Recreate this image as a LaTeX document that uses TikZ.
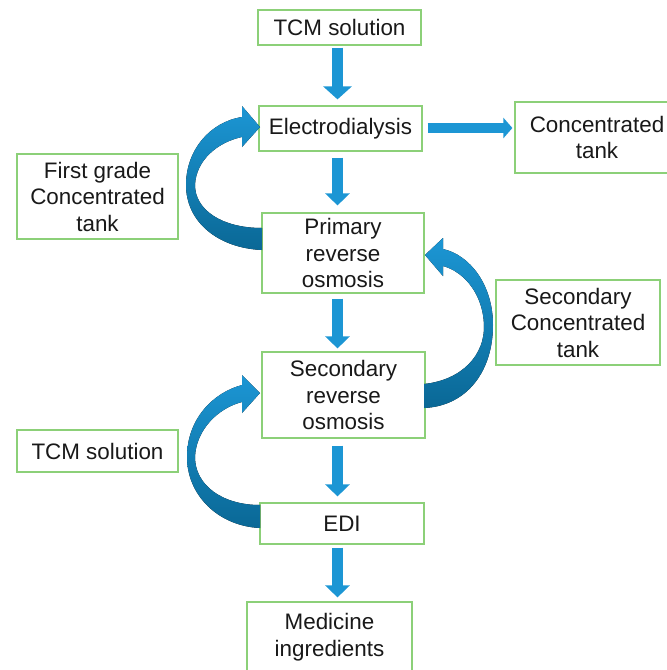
\documentclass[tikz,border=0pt]{standalone}
\usepackage{fontspec}
\setmainfont{Liberation Sans}
\usetikzlibrary{arrows.meta}
\definecolor{boxgreen}{RGB}{140,208,120}
\definecolor{arrblue}{RGB}{28,150,212}
\definecolor{arrdark}{RGB}{10,104,150}
\definecolor{txt}{RGB}{25,25,25}
\tikzset{
  box/.style={draw=boxgreen, line width=1.2pt, fill=white, inner sep=0pt,
    align=center, text=txt, font=\fontsize{22.4}{26.5}\selectfont},
  darr/.style={draw=arrblue, line width=11pt,
    -{Triangle[width=24pt,length=12pt]}, shorten <=3pt, shorten >=5pt},
  carr/.style={top color=arrblue, bottom color=arrdark, draw=none}
}
\begin{document}
\begin{tikzpicture}[x=1pt,y=-1pt]
\useasboundingbox (0,0) rectangle (667,670);
% boxes
\node[box, minimum width=163pt, minimum height=35pt] (tcm1) at (339.5,27.5) {TCM solution};
\node[box, minimum width=163pt, minimum height=45pt] (ed) at (340.5,128.5) {Electrodialysis};
\node[box, minimum width=164pt, minimum height=71pt] (conc) at (597,137.5) {Concentrated\\tank};
\node[box, minimum width=161pt, minimum height=85pt] (first) at (97.5,196.5) {First grade\\Concentrated\\tank};
\node[box, minimum width=162pt, minimum height=80pt] (prim) at (343,253) {Primary\\reverse\\osmosis};
\node[box, minimum width=164pt, minimum height=85pt] (sconc) at (578,322.5) {Secondary\\Concentrated\\tank};
\node[box, minimum width=163pt, minimum height=86pt] (sro) at (343.5,395) {Secondary\\reverse\\osmosis};
\node[box, minimum width=161pt, minimum height=42pt] (tcm2) at (97.5,451) {TCM solution};
\node[box, minimum width=164pt, minimum height=41pt] (edi) at (342,523.5) {EDI};
\node[box, minimum width=165pt, minimum height=70pt] (med) at (329.5,637) {Medicine\\ingredients};
% arrow axis
\coordinate (ax) at (337.5,0);
\draw[darr, -{Triangle[width=28pt,length=13pt]}, shorten <=2pt, shorten >=6pt] (tcm1.south -| ax) -- (ed.north -| ax);
\draw[darr, shorten <=6pt, shorten >=7pt] (ed.south -| ax) -- (prim.north -| ax);
\draw[darr, shorten <=5pt, shorten >=3pt] (prim.south -| ax) -- (sro.north -| ax);
\draw[darr, shorten <=7pt, shorten >=6pt] (sro.south -| ax) -- (edi.north -| ax);
\draw[darr, shorten <=3pt, shorten >=4pt] (edi.south -| ax) -- (med.north -| ax);
\draw[draw=arrblue, line width=10pt, -{Triangle[width=20pt,length=9pt]}, shorten <=5pt, shorten >=2pt]
  (ed.east |- 0,128) -- (conc.west |- 0,128);
% curved arrows
\fill[carr] (262,250) .. controls (218,248) and (186,222) .. (186,185)
  .. controls (186,150) and (210,122) .. (242,117) -- (242,106) -- (260,127) -- (242,147) -- (242,137)
  .. controls (218,142) and (196,160) .. (195,185)
  .. controls (195,210) and (222,228) .. (262,228) -- cycle;
\fill[carr] (424,408) .. controls (468,406) and (493,370) .. (493,325)
  .. controls (493,285) and (470,255) .. (443,249) -- (443,238) -- (425,255) -- (443,276) -- (443,266)
  .. controls (465,272) and (483,295) .. (484,325)
  .. controls (485,355) and (462,380) .. (424,384) -- cycle;
\fill[carr] (260,528) .. controls (218,526) and (187,495) .. (187,457)
  .. controls (187,420) and (212,393) .. (242,385) -- (242,375) -- (260,393) -- (242,413) -- (242,402)
  .. controls (218,408) and (196,430) .. (195,457)
  .. controls (195,485) and (222,505) .. (260,505) -- cycle;
\end{tikzpicture}
\end{document}
